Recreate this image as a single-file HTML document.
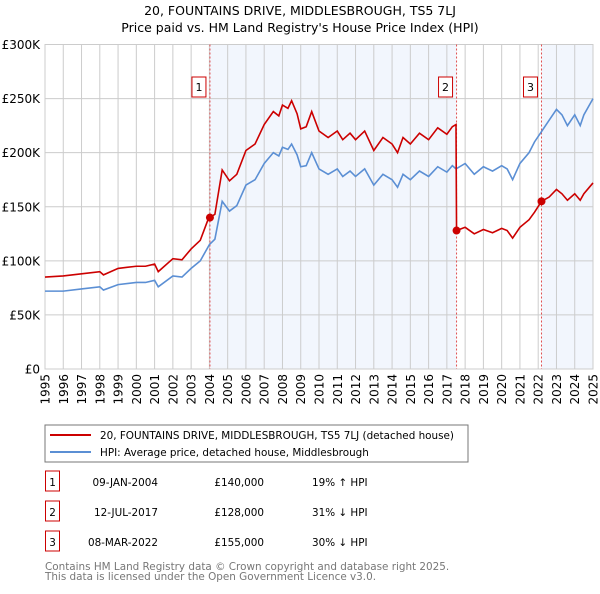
<!DOCTYPE html>
<html><head><meta charset="utf-8"><style>
body{margin:0;background:#fff;font-family:"DejaVu Sans","Liberation Sans",sans-serif;}
svg text{font-family:"DejaVu Sans","Liberation Sans",sans-serif;}
</style></head><body>
<svg id="c" width="600" height="590" xmlns="http://www.w3.org/2000/svg">
<text x="300" y="15" text-anchor="middle" font-size="12.5" fill="#000">20, FOUNTAINS DRIVE, MIDDLESBROUGH, TS5 7LJ</text>
<text x="300" y="32" text-anchor="middle" font-size="12.5" fill="#000">Price paid vs. HM Land Registry's House Price Index (HPI)</text>
<g id="plot"></g>
<rect x="45" y="425" width="423" height="37" fill="#fff" stroke="#777"/>
<line x1="50" y1="435" x2="91" y2="435" stroke="#cc0000" stroke-width="2"/>
<text x="100" y="439" font-size="10.4">20, FOUNTAINS DRIVE, MIDDLESBROUGH, TS5 7LJ (detached house)</text>
<line x1="50" y1="452" x2="91" y2="452" stroke="#5b8fd4" stroke-width="2"/>
<text x="100" y="456" font-size="10.4">HPI: Average price, detached house, Middlesbrough</text>
<g id="tbl" font-size="10.4"></g>
<text x="45" y="570" font-size="10.4" fill="#777">Contains HM Land Registry data © Crown copyright and database right 2025.</text>
<text x="45" y="580" font-size="10.4" fill="#777">This data is licensed under the Open Government Licence v3.0.</text>
</svg>
<script>
const hpiYears=[1995,1996,1997,1998,1998.2,1999,2000,2000.5,2001,2001.2,2002,2002.5,2003,2003.5,2004,2004.3,2004.7,2005.1,2005.5,2006,2006.5,2007,2007.5,2007.8,2008,2008.3,2008.5,2008.8,2009,2009.3,2009.6,2010,2010.5,2011,2011.3,2011.7,2012,2012.5,2013,2013.5,2014,2014.3,2014.6,2015,2015.5,2016,2016.5,2017,2017.3,2017.5,2018,2018.5,2019,2019.5,2020,2020.3,2020.6,2021,2021.5,2021.8,2022.2,2022.6,2023,2023.3,2023.6,2024,2024.3,2024.5,2025];
const hpiValues=[72,72,74,76,73,78,80,80,82,76,86,85,93,100,115,120,155,146,151,170,175,190,200,197,205,203,208,198,187,188,200,185,180,185,178,183,178,185,170,180,175,168,180,175,183,178,187,182,188,185,190,180,187,183,188,185,175,190,200,210,220,230,240,235,225,235,225,235,250];
const priceYears=[1995,1996,1997,1998,1998.2,1999,2000,2000.5,2001,2001.2,2002,2002.5,2003,2003.5,2003.9,2004.03,2004.3,2004.7,2005.1,2005.5,2006,2006.5,2007,2007.5,2007.8,2008,2008.3,2008.5,2008.8,2009,2009.3,2009.6,2010,2010.5,2011,2011.3,2011.7,2012,2012.5,2013,2013.5,2014,2014.3,2014.6,2015,2015.5,2016,2016.5,2017,2017.3,2017.5,2017.53,2018,2018.5,2019,2019.5,2020,2020.3,2020.6,2021,2021.5,2021.8,2022.18,2022.6,2023,2023.3,2023.6,2024,2024.3,2024.5,2025];
const priceValues=[85,86,88,90,87,93,95,95,97,90,102,101,111,119,137,140,143,184,174,180,202,208,226,238,234,244,241,248,236,222,224,238,220,214,220,212,218,212,220,202,214,208,200,214,208,218,212,223,217,224,226,128,131,125,129,126,130,128,121,131,138,145,155,159,166,162,156,162,156,162,172];
const saleYears=[2004.03,2017.53,2022.18];
const saleValues=[140,128,155];
const saleLabels=["1","2","3"];
const saleDates=["09-JAN-2004","12-JUL-2017","08-MAR-2022"];
const salePrices=["£140,000","£128,000","£155,000"];
const saleHpi=["19% ↑ HPI","31% ↓ HPI","30% ↓ HPI"];
const yTicks=[0,50,100,150,200,250,300];
const yTickLabels=["£0","£50K","£100K","£150K","£200K","£250K","£300K"];
const xTicks=[1995,1996,1997,1998,1999,2000,2001,2002,2003,2004,2005,2006,2007,2008,2009,2010,2011,2012,2013,2014,2015,2016,2017,2018,2019,2020,2021,2022,2023,2024,2025];

const NS="http://www.w3.org/2000/svg";
const X0=45,X1=593,Y0=369,Y1=44.5;
const xs=y=>X0+(y-1995)*(X1-X0)/30;
const ys=v=>Y0-v*(Y0-Y1)/300;
const g=document.getElementById('plot');
function mk(tag,attrs,parent){const e=document.createElementNS(NS,tag);for(const k in attrs)e.setAttribute(k,attrs[k]);(parent||g).appendChild(e);return e;}
let e;
e=mk('rect',{x:xs(saleYears[0]),y:Y1,width:xs(saleYears[1])-xs(saleYears[0]),height:Y0-Y1,fill:'#f2f6fd'});


e=mk('rect',{x:xs(saleYears[2]),y:Y1,width:X1-xs(saleYears[2]),height:Y0-Y1,fill:'#f2f6fd'});


yTicks.forEach((t,i)=>{
 e=mk('line',{x1:X0,x2:X1,y1:ys(t),y2:ys(t),stroke:'#ccc','stroke-width':1});
 
 
 e=mk('text',{x:40,y:ys(t)+4.5,'text-anchor':'end','font-size':12});
 e.textContent=yTickLabels[i];
 
 
});
xTicks.forEach(t=>{
 e=mk('line',{x1:xs(t),x2:xs(t),y1:Y1,y2:Y0,stroke:'#ccc','stroke-width':1});
 
 
 e=mk('text',{x:0,y:0,'text-anchor':'end','font-size':12,transform:`translate(${xs(t)+4.5},374) rotate(-90)`});
 e.textContent=t;
 
 
});
e=mk('rect',{x:X0,y:Y1,width:X1-X0,height:Y0-Y1,fill:'none',stroke:'#ccc'});


saleYears.forEach((s,i)=>{
 e=mk('line',{x1:xs(s),x2:xs(s),y1:Y1,y2:Y0,stroke:'#e05050','stroke-width':1,'stroke-dasharray':'2,2'});
 
 
 e=mk('rect',{x:xs(s)-18,y:77,width:14,height:20,fill:'#fff',stroke:'#cc0000'});
 
 
 e=mk('text',{x:xs(s)-11,y:91,'text-anchor':'middle','font-size':11});
 e.textContent=saleLabels[i];
 
 
});
e=mk('polyline',{points:hpiYears.map((y,i)=>xs(y)+','+ys(hpiValues[i])).join(' '),fill:'none',stroke:'#5b8fd4','stroke-width':1.6});


e=mk('polyline',{points:priceYears.map((y,i)=>xs(y)+','+ys(priceValues[i])).join(' '),fill:'none',stroke:'#cc0000','stroke-width':1.6});


saleYears.forEach((s,i)=>{
 e=mk('circle',{cx:xs(s),cy:ys(saleValues[i]),r:4,fill:'#cc0000'});
 
 
});
const tb=document.getElementById('tbl');
saleLabels.forEach((l,i)=>{
 const ty=483+i*30;
 e=mk('rect',{x:45.5,y:ty-12,width:14,height:20,fill:'#fff',stroke:'#cc0000'},tb);
 
 
 e=mk('text',{x:52.5,y:ty+3,'text-anchor':'middle'},tb);e.textContent=l;
 
 
 e=mk('text',{x:158,y:ty+3,'text-anchor':'end'},tb);e.textContent=saleDates[i];
 
 
 e=mk('text',{x:264,y:ty+3,'text-anchor':'end'},tb);e.textContent=salePrices[i];
 
 
 e=mk('text',{x:312,y:ty+3},tb);e.textContent=saleHpi[i];
 
 
});
</script>
</body></html>
